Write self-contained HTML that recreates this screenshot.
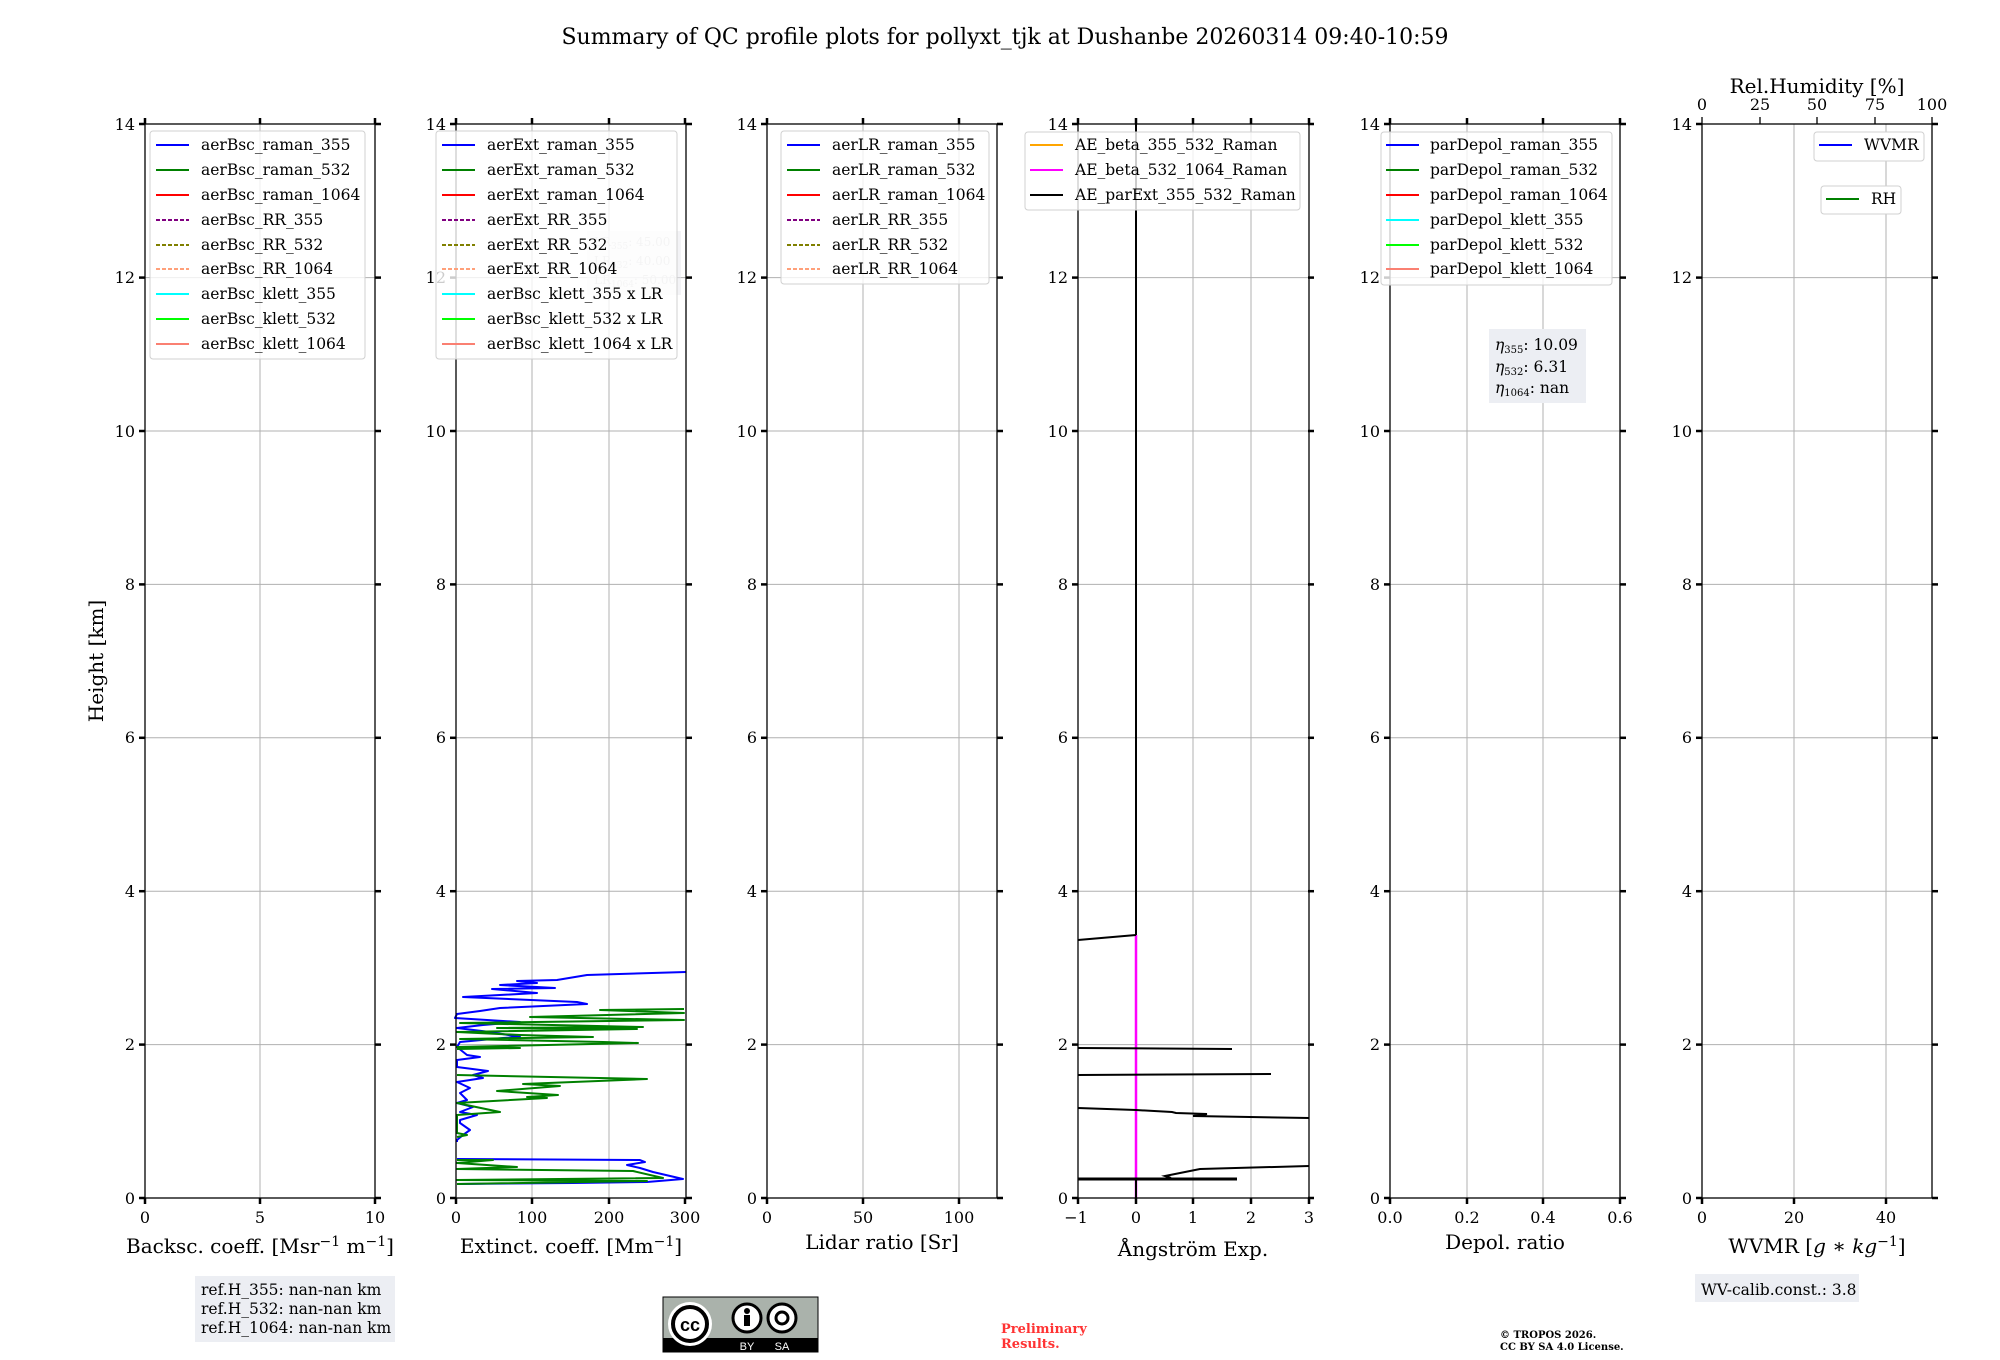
<!DOCTYPE html>
<html><head><meta charset="utf-8"><style>
html,body{margin:0;padding:0;background:#fff;}
svg{display:block;font-family:"DejaVu Serif","Liberation Serif",serif;}
</style></head><body>
<svg width="2000" height="1360" viewBox="0 0 2000 1360" xmlns="http://www.w3.org/2000/svg">
<rect width="2000" height="1360" fill="#fff"/>
<text x="1005" y="44" font-size="22" text-anchor="middle">Summary of QC profile plots for pollyxt_tjk at Dushanbe 20260314 09:40-10:59</text>

<g stroke="#b0b0b0" stroke-width="1">
  <g id="hg">
  <line x1="145" x2="375" y1="1044.6" y2="1044.6"/><line x1="145" x2="375" y1="891.2" y2="891.2"/><line x1="145" x2="375" y1="737.8" y2="737.8"/><line x1="145" x2="375" y1="584.4" y2="584.4"/><line x1="145" x2="375" y1="431" y2="431"/><line x1="145" x2="375" y1="277.6" y2="277.6"/>
  </g>
  <use href="#hg" x="311"/><use href="#hg" x="622"/><use href="#hg" x="933"/><use href="#hg" x="1245"/><use href="#hg" x="1557"/>
  <line x1="260" x2="260" y1="124" y2="1198"/>
  <line x1="532" x2="532" y1="124" y2="1198"/><line x1="609" x2="609" y1="124" y2="1198"/>
  <line x1="863" x2="863" y1="124" y2="1198"/><line x1="959" x2="959" y1="124" y2="1198"/>
  <line x1="1136" x2="1136" y1="124" y2="1198"/><line x1="1193" x2="1193" y1="124" y2="1198"/><line x1="1251" x2="1251" y1="124" y2="1198"/>
  <line x1="1467" x2="1467" y1="124" y2="1198"/><line x1="1543" x2="1543" y1="124" y2="1198"/>
  <line x1="1794" x2="1794" y1="124" y2="1198"/><line x1="1886" x2="1886" y1="124" y2="1198"/>
</g>

<g fill="none" stroke-width="2" stroke-linejoin="round">
<polyline stroke="#0000ff" points="686,972 587,975 557,980 517,981 537,983 500,985 555,988 492,989 537,993 463,997 577,1002 587,1004 500,1008 480,1011 457,1014 455,1018 520,1022 483,1025 457,1028 490,1032 520,1037 503,1038 460,1042 457,1047 467,1055 480,1057 457,1060 457,1067 488,1071 473,1075 483,1078 457,1082 470,1088 460,1093 467,1100 457,1103 473,1107 460,1112 477,1115 460,1120 460,1123 470,1130 463,1135 457,1140 457,1142"/>
<polyline stroke="#0000ff" points="457,1159 640,1160 645,1162 627,1165 640,1168 653,1172 683,1179 647,1182 573,1183 457,1184"/>
<polyline stroke="#008000" points="684,1009 600,1010 684,1013 530,1017 684,1020 460,1023 643,1027 497,1028 637,1029 457,1032 520,1035 593,1037 460,1039 603,1042 638,1043 457,1047 520,1048 457,1049"/>
<polyline stroke="#008000" points="457,1075 647,1079 523,1084 560,1086 497,1091 558,1095 527,1097 547,1098 457,1103 500,1112 457,1115 457,1133 467,1135 457,1137"/>
<polyline stroke="#008000" points="457,1160 493,1160 457,1163 517,1167 457,1169 633,1171 663,1178 457,1180 647,1181 457,1184"/>
</g>

<g fill="none" stroke-width="2">
<line x1="1136" y1="124" x2="1136" y2="935" stroke="#000"/>
<line x1="1136" y1="935" x2="1136" y2="1198" stroke="#ff00ff" stroke-width="2.5"/>
<polyline stroke="#000" points="1078,940 1136,935"/>
<polyline stroke="#000" points="1078,1048 1232,1049"/>
<polyline stroke="#000" points="1078,1075 1271,1074"/>
<polyline stroke="#000" points="1078,1108 1136,1110 1172,1112 1176,1113 1207,1114 1193,1116 1309,1118"/>
<polyline stroke="#000" points="1309,1166 1200,1169 1165,1176 1171,1178"/>
<polyline stroke="#000" stroke-width="3" points="1078,1179 1237,1179"/>
<line x1="1136" y1="1179" x2="1136" y2="1198" stroke="#000"/>
</g>

<g fill="none" stroke="#000" stroke-width="1.3">
<rect x="145" y="124" width="230" height="1074"/>
<rect x="456" y="124" width="230" height="1074"/>
<rect x="767" y="124" width="230" height="1074"/>
<rect x="1078" y="124" width="231" height="1074"/>
<rect x="1390" y="124" width="230" height="1074"/>
<rect x="1702" y="124" width="230" height="1074"/>
</g>

<g stroke="#000" stroke-width="2.5">
<g id="yt">
<line x1="139" x2="145" y1="1198" y2="1198"/><line x1="139" x2="145" y1="1044.6" y2="1044.6"/><line x1="139" x2="145" y1="891.2" y2="891.2"/><line x1="139" x2="145" y1="737.8" y2="737.8"/><line x1="139" x2="145" y1="584.4" y2="584.4"/><line x1="139" x2="145" y1="431" y2="431"/><line x1="139" x2="145" y1="277.6" y2="277.6"/><line x1="139" x2="145" y1="124" y2="124"/>
<line x1="375" x2="381" y1="1198" y2="1198"/><line x1="375" x2="381" y1="1044.6" y2="1044.6"/><line x1="375" x2="381" y1="891.2" y2="891.2"/><line x1="375" x2="381" y1="737.8" y2="737.8"/><line x1="375" x2="381" y1="584.4" y2="584.4"/><line x1="375" x2="381" y1="431" y2="431"/><line x1="375" x2="381" y1="277.6" y2="277.6"/><line x1="375" x2="381" y1="124" y2="124"/>
</g>
<use href="#yt" x="311"/><use href="#yt" x="622"/><use href="#yt" x="933"/><use href="#yt" x="1245"/><use href="#yt" x="1557"/>
<line x1="145" x2="145" y1="1198" y2="1204"/><line x1="260" x2="260" y1="1198" y2="1204"/><line x1="375" x2="375" y1="1198" y2="1204"/>
<line x1="145" x2="145" y1="118" y2="124"/><line x1="260" x2="260" y1="118" y2="124"/><line x1="375" x2="375" y1="118" y2="124"/>
<line x1="456" x2="456" y1="1198" y2="1204"/><line x1="532" x2="532" y1="1198" y2="1204"/><line x1="609" x2="609" y1="1198" y2="1204"/><line x1="685" x2="685" y1="1198" y2="1204"/>
<line x1="456" x2="456" y1="118" y2="124"/><line x1="532" x2="532" y1="118" y2="124"/><line x1="609" x2="609" y1="118" y2="124"/><line x1="685" x2="685" y1="118" y2="124"/>
<line x1="767" x2="767" y1="1198" y2="1204"/><line x1="863" x2="863" y1="1198" y2="1204"/><line x1="959" x2="959" y1="1198" y2="1204"/>
<line x1="767" x2="767" y1="118" y2="124"/><line x1="863" x2="863" y1="118" y2="124"/><line x1="959" x2="959" y1="118" y2="124"/>
<line x1="1078" x2="1078" y1="1198" y2="1204"/><line x1="1136" x2="1136" y1="1198" y2="1204"/><line x1="1193" x2="1193" y1="1198" y2="1204"/><line x1="1251" x2="1251" y1="1198" y2="1204"/><line x1="1309" x2="1309" y1="1198" y2="1204"/>
<line x1="1078" x2="1078" y1="118" y2="124"/><line x1="1136" x2="1136" y1="118" y2="124"/><line x1="1193" x2="1193" y1="118" y2="124"/><line x1="1251" x2="1251" y1="118" y2="124"/><line x1="1309" x2="1309" y1="118" y2="124"/>
<line x1="1390" x2="1390" y1="1198" y2="1204"/><line x1="1467" x2="1467" y1="1198" y2="1204"/><line x1="1543" x2="1543" y1="1198" y2="1204"/><line x1="1620" x2="1620" y1="1198" y2="1204"/>
<line x1="1390" x2="1390" y1="118" y2="124"/><line x1="1467" x2="1467" y1="118" y2="124"/><line x1="1543" x2="1543" y1="118" y2="124"/><line x1="1620" x2="1620" y1="118" y2="124"/>
<line x1="1702" x2="1702" y1="1198" y2="1204"/><line x1="1794" x2="1794" y1="1198" y2="1204"/><line x1="1886" x2="1886" y1="1198" y2="1204"/>
<line x1="1702" x2="1702" y1="117" y2="124" stroke-width="1.3"/><line x1="1760" x2="1760" y1="117" y2="124" stroke-width="1.3"/><line x1="1817" x2="1817" y1="117" y2="124" stroke-width="1.3"/><line x1="1875" x2="1875" y1="117" y2="124" stroke-width="1.3"/><line x1="1932" x2="1932" y1="117" y2="124" stroke-width="1.3"/>
</g>

<g font-size="16" text-anchor="end">
<g id="yl">
<text x="135" y="1204">0</text><text x="135" y="1050">2</text><text x="135" y="897">4</text><text x="135" y="743">6</text><text x="135" y="590">8</text><text x="135" y="437">10</text><text x="135" y="283">12</text><text x="135" y="130">14</text>
</g>
<use href="#yl" x="311"/><use href="#yl" x="622"/><use href="#yl" x="933"/><use href="#yl" x="1245"/><use href="#yl" x="1557"/>
</g>

<g font-size="16" text-anchor="middle">
<text x="145" y="1223">0</text><text x="260" y="1223">5</text><text x="375" y="1223">10</text>
<text x="456" y="1223">0</text><text x="532" y="1223">100</text><text x="609" y="1223">200</text><text x="685" y="1223">300</text>
<text x="767" y="1223">0</text><text x="863" y="1223">50</text><text x="959" y="1223">100</text>
<text x="1076" y="1223">−1</text><text x="1136" y="1223">0</text><text x="1193" y="1223">1</text><text x="1251" y="1223">2</text><text x="1309" y="1223">3</text>
<text x="1390" y="1223">0.0</text><text x="1467" y="1223">0.2</text><text x="1543" y="1223">0.4</text><text x="1620" y="1223">0.6</text>
<text x="1702" y="1223">0</text><text x="1794" y="1223">20</text><text x="1886" y="1223">40</text>
<text x="1702" y="110">0</text><text x="1760" y="110">25</text><text x="1817" y="110">50</text><text x="1875" y="110">75</text><text x="1932" y="110">100</text>
</g>

<g font-size="20" text-anchor="middle">
<text x="260" y="1253">Backsc. coeff. [Msr<tspan dy="-7" font-size="14">−1</tspan><tspan dy="7"> m</tspan><tspan dy="-7" font-size="14">−1</tspan><tspan dy="7">]</tspan></text>
<text x="571" y="1253">Extinct. coeff. [Mm<tspan dy="-7" font-size="14">−1</tspan><tspan dy="7">]</tspan></text>
<text x="882" y="1249">Lidar ratio [Sr]</text>
<text x="1193" y="1256">Ångström Exp.</text>
<text x="1505" y="1249">Depol. ratio</text>
<text x="1817" y="1253">WVMR [<tspan font-style="italic">g</tspan> ∗ <tspan font-style="italic">kg</tspan><tspan dy="-7" font-size="14">−1</tspan><tspan dy="7">]</tspan></text>
<text x="1817" y="93">Rel.Humidity [%]</text>
<text transform="translate(103,661) rotate(-90)">Height [km]</text>
</g>

<g font-size="15.5">
<rect x="150" y="131" width="215" height="228" rx="3" fill="#fff" fill-opacity="0.8" stroke="#d0d0d0"/>
<g stroke-width="2">
<line x1="156" x2="189" y1="145" y2="145" stroke="#0000ff"/><line x1="156" x2="189" y1="170" y2="170" stroke="#008000"/><line x1="156" x2="189" y1="195" y2="195" stroke="#ff0000"/>
<line x1="156" x2="189" y1="220" y2="220" stroke="#800080" stroke-dasharray="4,2"/><line x1="156" x2="189" y1="245" y2="245" stroke="#808000" stroke-dasharray="4,2"/><line x1="156" x2="189" y1="269" y2="269" stroke="#ffa07a" stroke-dasharray="4,2"/>
<line x1="156" x2="189" y1="294" y2="294" stroke="#00ffff"/><line x1="156" x2="189" y1="319" y2="319" stroke="#00ff00"/><line x1="156" x2="189" y1="344" y2="344" stroke="#fa8072"/>
</g>
<text x="201" y="150">aerBsc_raman_355</text><text x="201" y="175">aerBsc_raman_532</text><text x="201" y="200">aerBsc_raman_1064</text><text x="201" y="225">aerBsc_RR_355</text><text x="201" y="250">aerBsc_RR_532</text><text x="201" y="274">aerBsc_RR_1064</text><text x="201" y="299">aerBsc_klett_355</text><text x="201" y="324">aerBsc_klett_532</text><text x="201" y="349">aerBsc_klett_1064</text>

<rect x="587" y="231" width="94" height="64" fill="#e8e8ee" fill-opacity="0.5"/>
<g font-size="12" fill="#c8c8c8"><text x="594" y="246">LR<tspan font-size="9" dy="3">355</tspan><tspan dy="-3">: 45.00</tspan></text><text x="594" y="265">LR<tspan font-size="9" dy="3">532</tspan><tspan dy="-3">: 40.00</tspan></text><text x="594" y="284">LR<tspan font-size="9" dy="3">1064</tspan><tspan dy="-3">: 50.00</tspan></text></g>
<rect x="436" y="131" width="241" height="228" rx="3" fill="#fff" fill-opacity="0.8" stroke="#d0d0d0"/>
<g stroke-width="2">
<line x1="442" x2="475" y1="145" y2="145" stroke="#0000ff"/><line x1="442" x2="475" y1="170" y2="170" stroke="#008000"/><line x1="442" x2="475" y1="195" y2="195" stroke="#ff0000"/>
<line x1="442" x2="475" y1="220" y2="220" stroke="#800080" stroke-dasharray="4,2"/><line x1="442" x2="475" y1="245" y2="245" stroke="#808000" stroke-dasharray="4,2"/><line x1="442" x2="475" y1="269" y2="269" stroke="#ffa07a" stroke-dasharray="4,2"/>
<line x1="442" x2="475" y1="294" y2="294" stroke="#00ffff"/><line x1="442" x2="475" y1="319" y2="319" stroke="#00ff00"/><line x1="442" x2="475" y1="344" y2="344" stroke="#fa8072"/>
</g>
<text x="487" y="150">aerExt_raman_355</text><text x="487" y="175">aerExt_raman_532</text><text x="487" y="200">aerExt_raman_1064</text><text x="487" y="225">aerExt_RR_355</text><text x="487" y="250">aerExt_RR_532</text><text x="487" y="274">aerExt_RR_1064</text><text x="487" y="299">aerBsc_klett_355 x LR</text><text x="487" y="324">aerBsc_klett_532 x LR</text><text x="487" y="349">aerBsc_klett_1064 x LR</text>

<rect x="781" y="131" width="208" height="153" rx="3" fill="#fff" fill-opacity="0.8" stroke="#d0d0d0"/>
<g stroke-width="2">
<line x1="787" x2="820" y1="145" y2="145" stroke="#0000ff"/><line x1="787" x2="820" y1="170" y2="170" stroke="#008000"/><line x1="787" x2="820" y1="195" y2="195" stroke="#ff0000"/>
<line x1="787" x2="820" y1="220" y2="220" stroke="#800080" stroke-dasharray="4,2"/><line x1="787" x2="820" y1="245" y2="245" stroke="#808000" stroke-dasharray="4,2"/><line x1="787" x2="820" y1="269" y2="269" stroke="#ffa07a" stroke-dasharray="4,2"/>
</g>
<text x="832" y="150">aerLR_raman_355</text><text x="832" y="175">aerLR_raman_532</text><text x="832" y="200">aerLR_raman_1064</text><text x="832" y="225">aerLR_RR_355</text><text x="832" y="250">aerLR_RR_532</text><text x="832" y="274">aerLR_RR_1064</text>

<rect x="1025" y="132" width="275" height="78" rx="3" fill="#fff" fill-opacity="0.8" stroke="#d0d0d0"/>
<g stroke-width="2">
<line x1="1030" x2="1063" y1="145" y2="145" stroke="#ffa500"/><line x1="1030" x2="1063" y1="170" y2="170" stroke="#ff00ff"/><line x1="1030" x2="1063" y1="195" y2="195" stroke="#000"/>
</g>
<text x="1075" y="150">AE_beta_355_532_Raman</text><text x="1075" y="175">AE_beta_532_1064_Raman</text><text x="1075" y="200">AE_parExt_355_532_Raman</text>

<rect x="1381" y="132" width="231" height="153" rx="3" fill="#fff" fill-opacity="0.8" stroke="#d0d0d0"/>
<g stroke-width="2">
<line x1="1386" x2="1419" y1="145" y2="145" stroke="#0000ff"/><line x1="1386" x2="1419" y1="170" y2="170" stroke="#008000"/><line x1="1386" x2="1419" y1="195" y2="195" stroke="#ff0000"/>
<line x1="1386" x2="1419" y1="220" y2="220" stroke="#00ffff"/><line x1="1386" x2="1419" y1="245" y2="245" stroke="#00ff00"/><line x1="1386" x2="1419" y1="269" y2="269" stroke="#fa8072"/>
</g>
<text x="1430" y="150">parDepol_raman_355</text><text x="1430" y="175">parDepol_raman_532</text><text x="1430" y="200">parDepol_raman_1064</text><text x="1430" y="225">parDepol_klett_355</text><text x="1430" y="250">parDepol_klett_532</text><text x="1430" y="274">parDepol_klett_1064</text>

<rect x="1489" y="329" width="97" height="74" fill="#eceef3"/>
<text x="1495" y="350"><tspan font-style="italic">η</tspan><tspan font-size="10" dy="3">355</tspan><tspan dy="-3">: 10.09</tspan></text>
<text x="1495" y="372"><tspan font-style="italic">η</tspan><tspan font-size="10" dy="3">532</tspan><tspan dy="-3">: 6.31</tspan></text>
<text x="1495" y="393"><tspan font-style="italic">η</tspan><tspan font-size="10" dy="3">1064</tspan><tspan dy="-3">: nan</tspan></text>

<rect x="1814" y="132" width="110" height="29" rx="3" fill="#fff" stroke="#d0d0d0"/>
<line x1="1819" x2="1852" y1="145" y2="145" stroke="#0000ff" stroke-width="2"/><text x="1864" y="150">WVMR</text>
<rect x="1821" y="186" width="80" height="28" rx="3" fill="#fff" stroke="#d0d0d0"/>
<line x1="1826" x2="1859" y1="199" y2="199" stroke="#008000" stroke-width="2"/><text x="1871" y="204">RH</text>
</g>

<rect x="195" y="1276" width="200" height="66" fill="#eceef3"/>
<g font-size="15.5"><text x="201" y="1295">ref.H_355: nan-nan km</text><text x="201" y="1314">ref.H_532: nan-nan km</text><text x="201" y="1333">ref.H_1064: nan-nan km</text></g>

<rect x="1695" y="1274" width="164" height="28" fill="#eceef3"/>
<text x="1701" y="1295" font-size="15.5">WV-calib.const.: 3.8</text>

<g>
<rect x="663" y="1297" width="155" height="55" fill="#aab2ab" stroke="#000" stroke-width="1"/>
<rect x="663" y="1338" width="155" height="14" fill="#000"/>
<circle cx="690" cy="1324" r="22" fill="#fff"/><circle cx="690" cy="1324" r="17" fill="#fff" stroke="#000" stroke-width="4"/>
<text x="690" y="1331" font-family="Liberation Sans, sans-serif" font-weight="bold" font-size="18" text-anchor="middle">cc</text>
<circle cx="747" cy="1318" r="14" fill="#fff" stroke="#000" stroke-width="3"/><circle cx="747" cy="1311" r="3" fill="#000"/><rect x="744" y="1315" width="6" height="11" fill="#000"/>
<circle cx="782" cy="1318" r="14" fill="#fff" stroke="#000" stroke-width="3"/><circle cx="782" cy="1318" r="6" fill="none" stroke="#000" stroke-width="3"/>
<text x="747" y="1350" fill="#fff" font-family="Liberation Sans, sans-serif" font-size="11" text-anchor="middle">BY</text>
<text x="782" y="1350" fill="#fff" font-family="Liberation Sans, sans-serif" font-size="11" text-anchor="middle">SA</text>
</g>

<g font-size="13" font-weight="bold" fill="#ff3333"><text x="1001" y="1333">Preliminary</text><text x="1001" y="1348">Results.</text></g>
<g font-size="10" font-weight="bold"><text x="1500" y="1338">© TROPOS 2026.</text><text x="1500" y="1350">CC BY SA 4.0 License.</text></g>
</svg>
</body></html>
